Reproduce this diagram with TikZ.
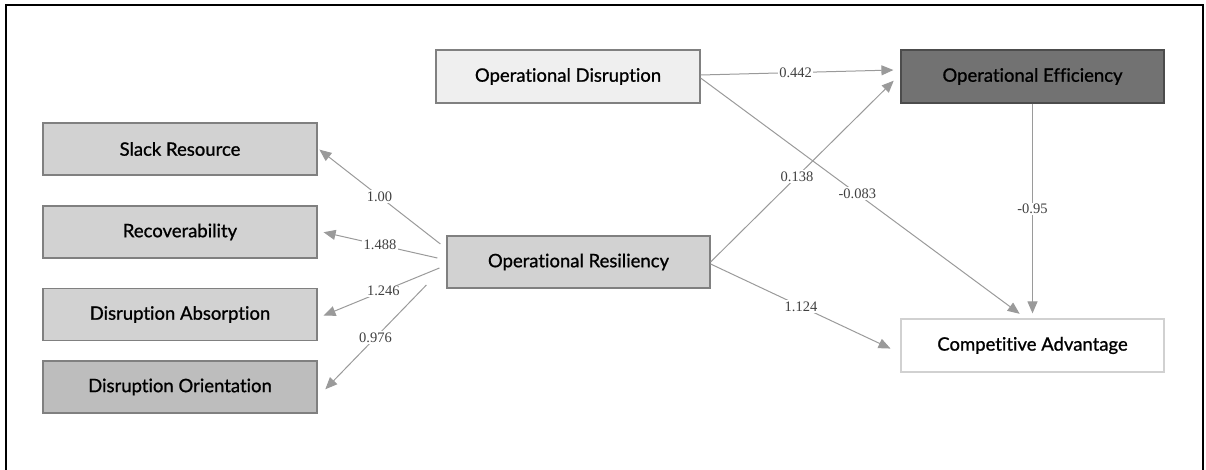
\documentclass[tikz,border=0pt]{standalone}
\usepackage{fontspec}
\setmainfont{Lato}[Ligatures=NoCommon]
\newfontfamily\boxfont{Lato}[Ligatures=NoCommon,FakeBold=0.9]
\newfontfamily\numfont{Liberation Serif}
\usetikzlibrary{arrows.meta,positioning}

\definecolor{linegray}{HTML}{9A9A9A}
\definecolor{boxlight}{HTML}{D2D2D2}
\definecolor{boxmid}{HTML}{BDBDBD}
\definecolor{boxpale}{HTML}{EFEFEF}
\definecolor{boxdark}{HTML}{727272}

\begin{document}
\begin{tikzpicture}[x=1pt,y=-1pt,inner sep=0.4mm,
  construct/.style={draw=black!50,line width=1.2pt,minimum width=274pt,minimum height=52pt,
    font=\boxfont\fontsize{18.5}{20}\selectfont,text=black},
  link/.style={draw=linegray,line width=1pt,-{Triangle[length=12pt,width=10pt]},shorten >=1pt},
  coef/.style={fill=white,inner sep=1.5pt,font=\numfont\fontsize{14.5}{15}\selectfont,text=black!75}]
\useasboundingbox (0,0) rectangle (1206,470);
\draw[line width=2pt] (6,470) -- (6,5) -- (1203,5) -- (1203,470);

% indicators
\node[construct,fill=boxlight] (slack) at (180,149) {Slack Resource};
\node[construct,fill=boxlight] (recov) at (180,232) {Recoverability};
\node[construct,fill=boxlight] (absorb) at (180,314.5) {Disruption Absorption};
\node[construct,fill=boxmid] (orient) at (180,387) {Disruption Orientation};

% constructs
\node[construct,fill=boxlight,minimum width=263pt] (resil) at (578.5,262) {Operational Resiliency};
\node[construct,fill=boxpale,minimum width=264pt,minimum height=53pt] (disrupt) at (568,76.5) {Operational Disruption};
\node[construct,fill=boxdark,draw=black!70,minimum width=263pt,minimum height=53pt] (effic) at (1032.5,76.5) {Operational Efficiency};
\node[construct,fill=white,draw=black!18,minimum width=263pt,minimum height=53pt] (compadv) at (1032.5,345.5) {Competitive Advantage};

% loadings
\draw[link] ([xshift=-6pt,yshift=18pt]resil.west) -- node[coef,pos=0.5] {1.00} ([xshift=1pt]slack.east);
\draw[link] ([xshift=-9pt,yshift=4pt]resil.west) -- node[coef,pos=0.5] {1.488} ([xshift=5pt]recov.east);
\draw[link] ([xshift=-7pt,yshift=-6pt]resil.west) -- node[coef,pos=0.48] {1.246} ([xshift=5pt,yshift=-1.5pt]absorb.east);
\draw[link] ([xshift=-20pt,yshift=-23pt]resil.west) -- node[coef,pos=0.5] {0.976} ([xshift=7pt,yshift=-3pt]orient.east);

% paths
\draw[link] ([yshift=1.5pt]disrupt.east) -- node[coef,pos=0.49] {0.442} ([xshift=-6pt,yshift=6.5pt]effic.west);
\draw[link] (resil.east) -- node[coef,pos=0.47] {0.138} ([xshift=-6pt,yshift=-3.5pt]effic.west);
\draw[link] ([yshift=-1.5pt]disrupt.east) -- node[coef,pos=0.49] {-0.083} ([xshift=-12pt,yshift=4pt]compadv.north);
\draw[link] (effic.south) -- node[coef,pos=0.5] {-0.95} ([yshift=4pt]compadv.north);
\draw[link] ([yshift=-2pt]resil.east) -- node[coef,pos=0.5] {1.124} ([xshift=-9pt,yshift=-3.5pt]compadv.west);
\end{tikzpicture}
\end{document}
